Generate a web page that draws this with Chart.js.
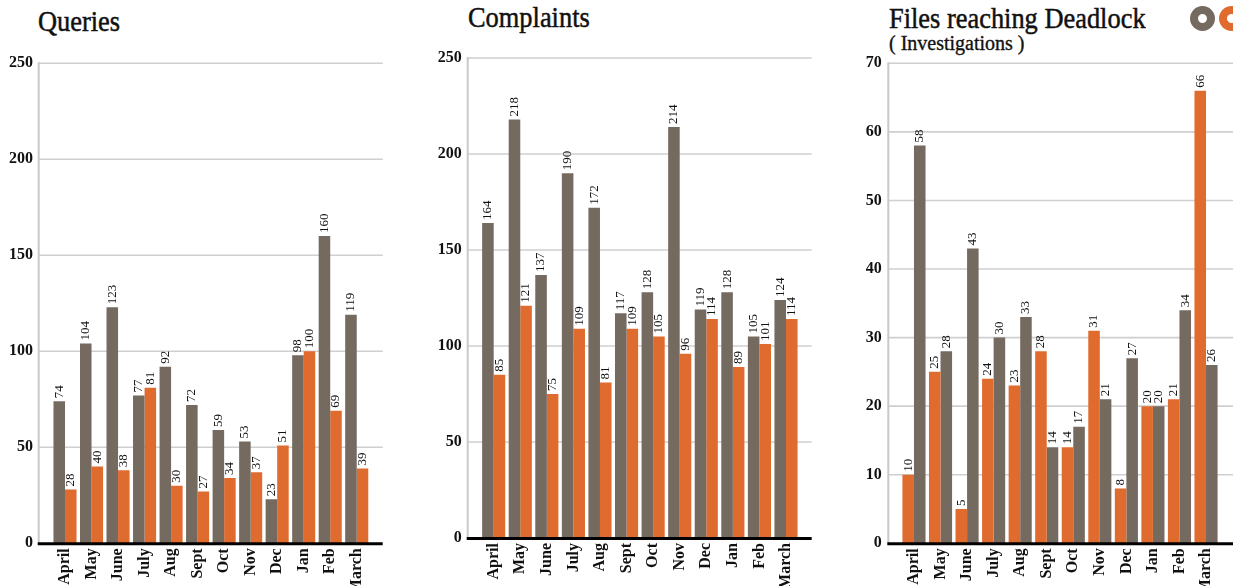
<!DOCTYPE html>
<html>
<head>
<meta charset="utf-8">
<script src="https://cdn.jsdelivr.net/npm/chart.js@4.4.1/dist/chart.umd.min.js"></script>
<style>
  html, body { margin: 0; padding: 0; background: #fff; width: 1233px; height: 586px; overflow: hidden; position: relative; }
  canvas { position: absolute; top: 0; }
  .title { position: absolute; font-family: "Liberation Serif", serif; font-size: 30px; line-height: 30px;
           color: #111; white-space: nowrap; transform: scaleX(0.88); transform-origin: 0 0;
           -webkit-text-stroke: 0.5px #111; }
  .sub { position: absolute; font-family: "Liberation Serif", serif; font-size: 20px; line-height: 20px;
         color: #111; white-space: nowrap; -webkit-text-stroke: 0.35px #111; }
  .ring { position: absolute; box-sizing: border-box; border-radius: 50%; }
</style>
</head>
<body>
<div class="title" style="left:38px; top:6px;">Queries</div>
<div class="title" style="left:468px; top:2px;">Complaints</div>
<div class="title" style="left:889px; top:3px;">Files reaching Deadlock</div>
<div class="sub" style="left:889px; top:33px;">( Investigations )</div>
<div class="ring" style="left:1190px; top:6px; width:25px; height:25px; border:8.5px solid #746a5f;"></div>
<div class="ring" style="left:1219px; top:6px; width:25px; height:25px; border:8.5px solid #e06b2f; border-right-color: transparent;"></div>

<canvas id="queries" width="400" height="586" style="left:0px;"></canvas>
<canvas id="complaints" width="400" height="586" style="left:420px;"></canvas>
<canvas id="deadlock" width="393" height="586" style="left:840px;"></canvas>

<script>
// Months of the reporting year
const months = ['April', 'May', 'June', 'July', 'Aug', 'Sept', 'Oct', 'Nov', 'Dec', 'Jan', 'Feb', 'March'];

// Queries
const queriesGray   = [74, 104, 123, 77, 92, 72, 59, 53, 23, 98, 160, 119];
const queriesOrange = [28, 40, 38, 81, 30, 27, 34, 37, 51, 100, 69, 39];
const queriesTicks  = [0, 50, 100, 150, 200, 250];

// Complaints
const complaintsGray   = [164, 218, 137, 190, 172, 117, 128, 214, 119, 128, 105, 124];
const complaintsOrange = [85, 121, 75, 109, 81, 109, 105, 96, 114, 89, 101, 114];
const complaintsTicks  = [0, 50, 100, 150, 200, 250];

// Files reaching deadlock (investigations)
const deadlockOrange = [10, 25, 5, 24, 23, 28, 14, 31, 8, 20, 21, 66];
const deadlockGray   = [58, 28, 43, 30, 33, 14, 17, 21, 27, 20, 34, 26];
const deadlockTicks  = [0, 10, 20, 30, 40, 50, 60, 70];

const GRAY = '#746a5f';
const ORANGE = '#e06b2f';
const SERIF = '"Liberation Serif", "Times New Roman", serif';

// Grid lines, axes and value labels
const framePlugin = {
  id: 'frame',
  beforeDatasetsDraw(chart, args, opts) {
    const { ctx, scales: { y } } = chart;
    ctx.save();
    ctx.strokeStyle = '#cfcfcf';
    ctx.lineWidth = 1.6;
    y.ticks.forEach(t => {
      if (t.value === 0) return;
      const py = y.getPixelForValue(t.value);
      ctx.beginPath();
      ctx.moveTo(opts.axisX, py);
      ctx.lineTo(opts.right, py);
      ctx.stroke();
    });
    ctx.strokeStyle = '#c9c9c9';
    ctx.lineWidth = 2;
    ctx.beginPath();
    ctx.moveTo(opts.axisX, y.getPixelForValue(y.max) - 1);
    ctx.lineTo(opts.axisX, y.getPixelForValue(0));
    ctx.stroke();
    ctx.restore();
  },
  afterDatasetsDraw(chart, args, opts) {
    const { ctx, scales: { y } } = chart;
    ctx.save();
    const base = y.getPixelForValue(0);
    ctx.strokeStyle = '#000';
    ctx.lineWidth = 3;
    ctx.beginPath();
    ctx.moveTo(opts.axisX - 1, base + 0.5);
    ctx.lineTo(opts.right, base + 0.5);
    ctx.stroke();

    ctx.fillStyle = '#111';
    ctx.font = '13px ' + SERIF;
    ctx.textAlign = 'left';
    ctx.textBaseline = 'middle';
    chart.data.datasets.forEach((ds, di) => {
      const meta = chart.getDatasetMeta(di);
      meta.data.forEach((bar, i) => {
        ctx.save();
        ctx.translate(bar.x, bar.y - 3);
        ctx.rotate(-Math.PI / 2);
        ctx.fillText(String(ds.data[i]), 0, 0);
        ctx.restore();
      });
    });
    ctx.restore();
  }
};

function makeChart(id, first, second, firstColor, secondColor, ticks, g) {
  new Chart(document.getElementById(id), {
    type: 'bar',
    data: {
      labels: months,
      datasets: [
        { data: first, backgroundColor: firstColor, borderWidth: 0, categoryPercentage: 0.87, barPercentage: 1 },
        { data: second, backgroundColor: secondColor, borderWidth: 0, categoryPercentage: 0.87, barPercentage: 1 }
      ]
    },
    options: {
      responsive: false,
      animation: false,
      devicePixelRatio: 1,
      layout: { padding: { left: 8, right: g.padRight, top: g.top, bottom: 0 } },
      plugins: {
        legend: { display: false },
        tooltip: { enabled: false },
        frame: { axisX: g.axisX, right: g.gridRight }
      },
      scales: {
        x: {
          grid: { display: false, drawTicks: false },
          border: { display: false },
          ticks: {
            autoSkip: false, minRotation: 90, maxRotation: 90, padding: 5,
            color: '#111', font: { family: SERIF, size: 16, weight: 'bold' }
          },
          afterFit: s => { s.height = g.xHeight; }
        },
        y: {
          min: ticks[0],
          max: ticks[ticks.length - 1],
          grid: { display: false, drawTicks: false },
          border: { display: false },
          ticks: {
            padding: g.tickPad,
            color: '#111', font: { family: SERIF, size: 16, weight: 'bold' }
          },
          afterBuildTicks: s => { s.ticks = ticks.map(v => ({ value: v })); },
          afterFit: s => { s.width = g.yWidth; }
        }
      }
    },
    plugins: [framePlugin]
  });
}

makeChart('queries', queriesGray, queriesOrange, GRAY, ORANGE, queriesTicks,
  { padRight: 30, top: 63.3, xHeight: 42.7, yWidth: 43.75, tickPad: 18.7, axisX: 38.7, gridRight: 382.7 });

makeChart('complaints', complaintsGray, complaintsOrange, GRAY, ORANGE, complaintsTicks,
  { padRight: 20.7, top: 58, xHeight: 48, yWidth: 52.4, tickPad: 18.7, axisX: 47.7, gridRight: 391.7 });

makeChart('deadlock', deadlockOrange, deadlockGray, ORANGE, GRAY, deadlockTicks,
  { padRight: 13.7, top: 63.3, xHeight: 42.7, yWidth: 52.7, tickPad: 19, axisX: 48.3, gridRight: 393 });
</script>
</body>
</html>
